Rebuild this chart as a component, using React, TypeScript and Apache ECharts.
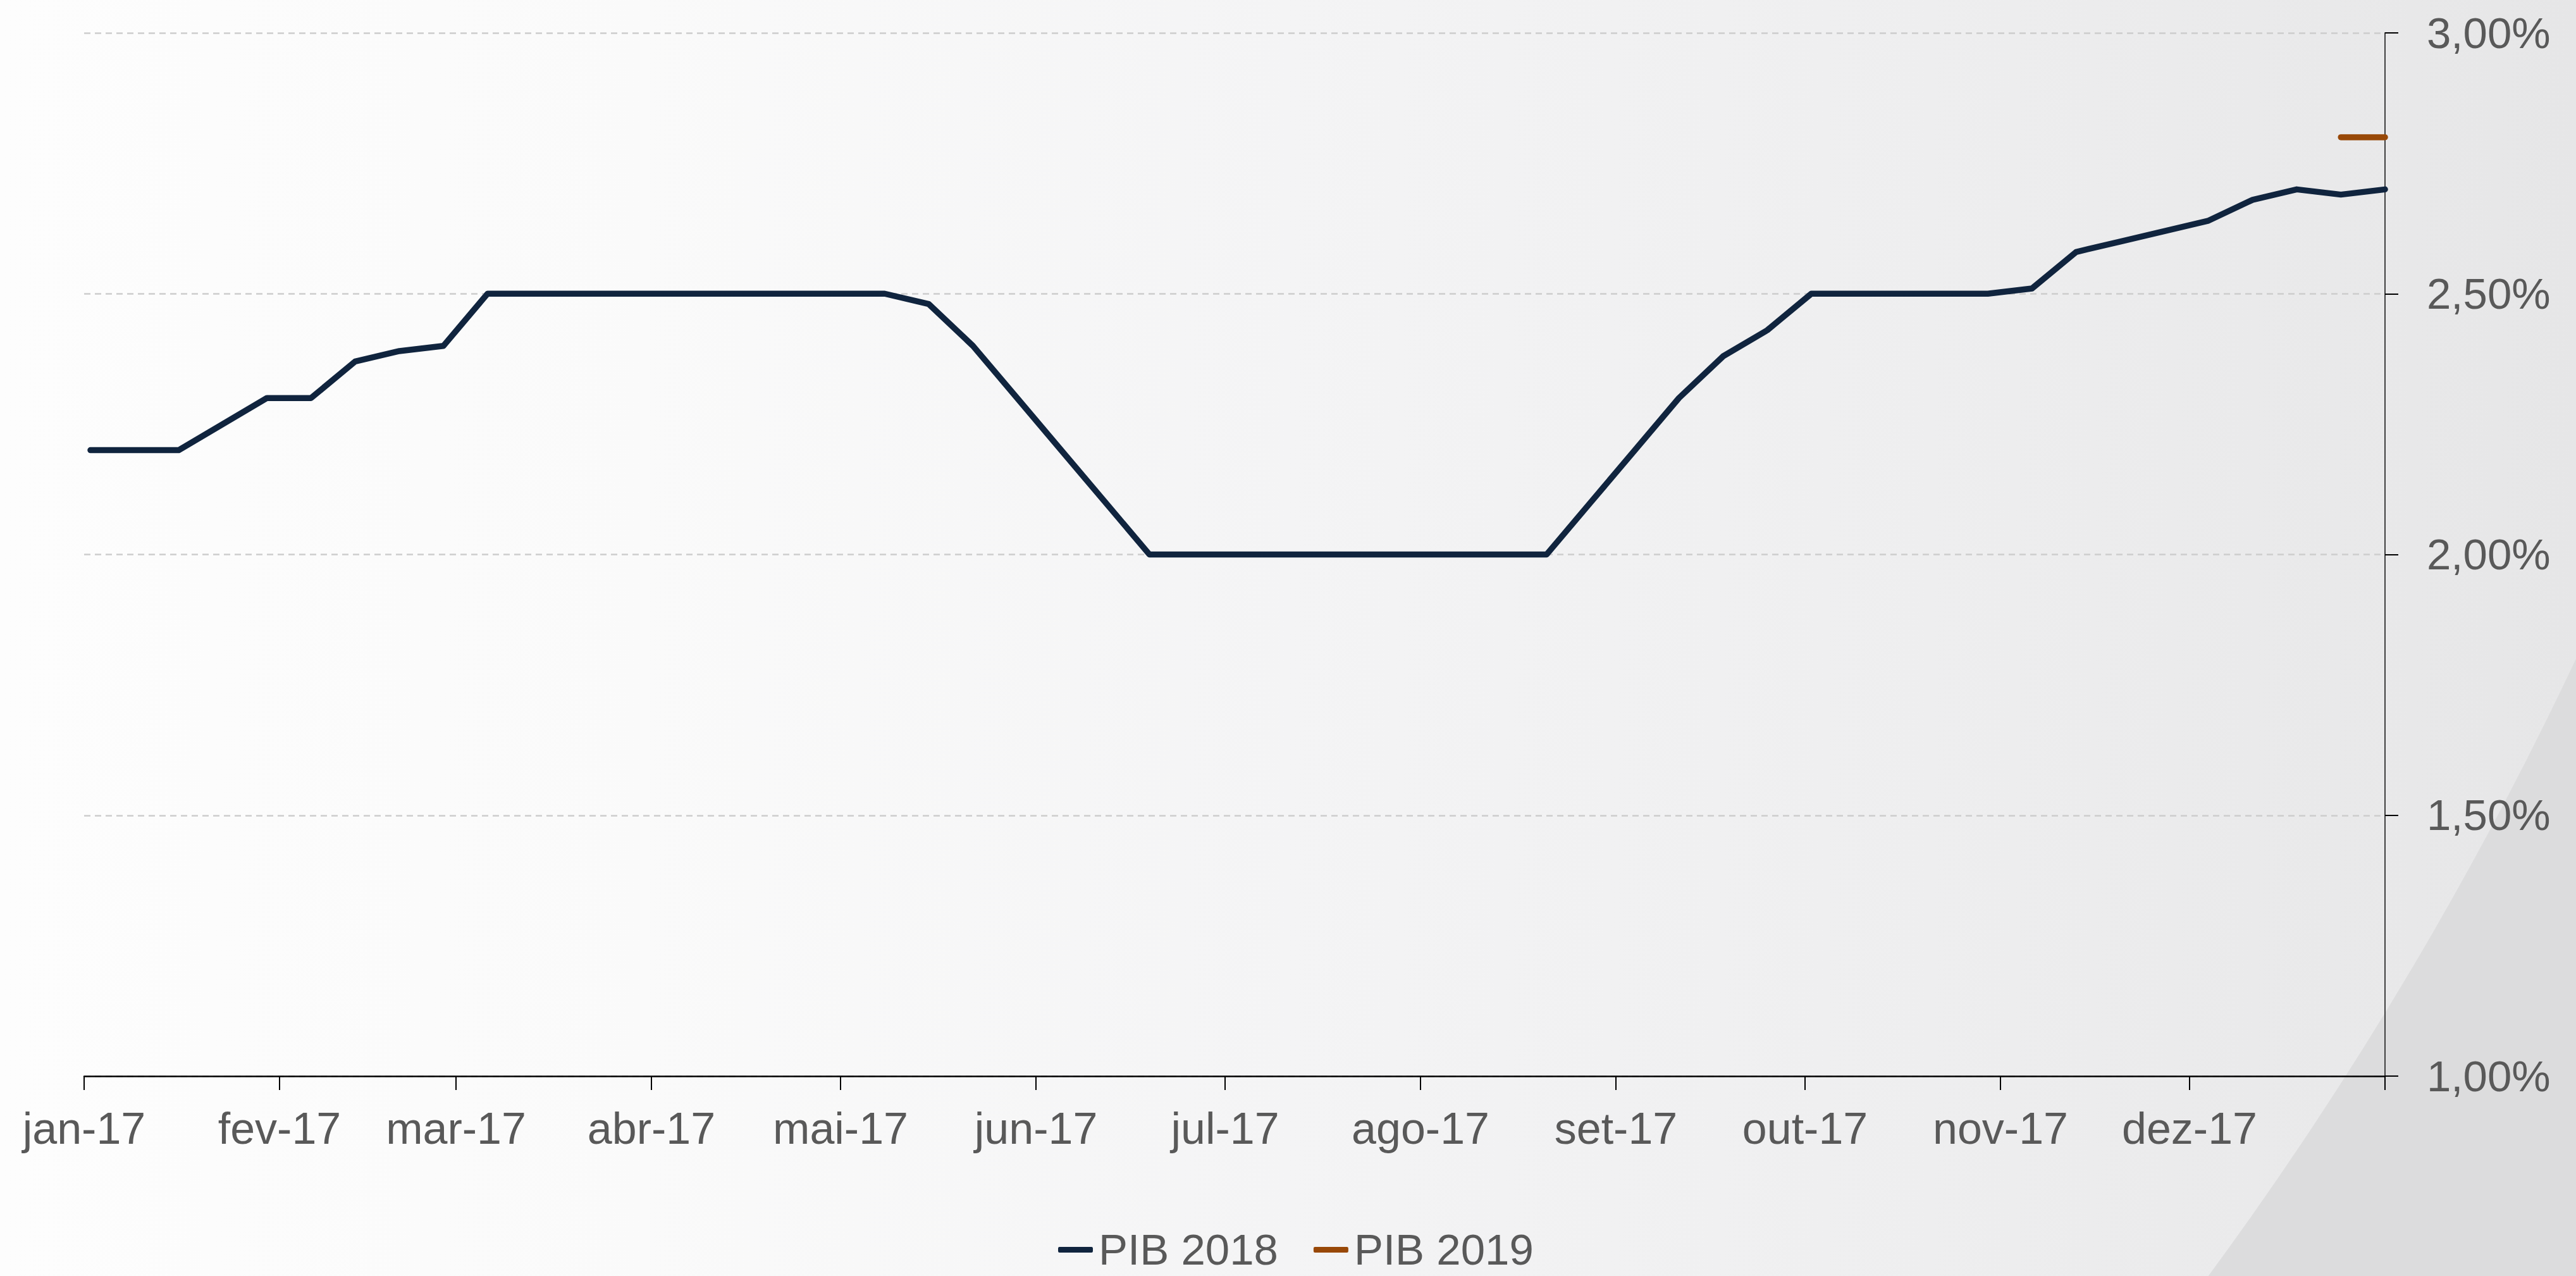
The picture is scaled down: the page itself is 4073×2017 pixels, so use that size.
import React, { useEffect, useRef } from 'react';
import * as echarts from 'echarts';

// Weekly survey dates (Mondays)
const weekDates = [
  '2017-01-02', '2017-01-09', '2017-01-16', '2017-01-23', '2017-01-30',
  '2017-02-06', '2017-02-13', '2017-02-20', '2017-02-27',
  '2017-03-06', '2017-03-13', '2017-03-20', '2017-03-27',
  '2017-04-03', '2017-04-10', '2017-04-17', '2017-04-24',
  '2017-05-01', '2017-05-08', '2017-05-15', '2017-05-22', '2017-05-29',
  '2017-06-05', '2017-06-12', '2017-06-19', '2017-06-26',
  '2017-07-03', '2017-07-10', '2017-07-17', '2017-07-24', '2017-07-31',
  '2017-08-07', '2017-08-14', '2017-08-21', '2017-08-28',
  '2017-09-04', '2017-09-11', '2017-09-18', '2017-09-25',
  '2017-10-02', '2017-10-09', '2017-10-16', '2017-10-23', '2017-10-30',
  '2017-11-06', '2017-11-13', '2017-11-20', '2017-11-27',
  '2017-12-04', '2017-12-11', '2017-12-18', '2017-12-25',
  '2018-01-01',
];

// PIB 2018 expectation (%), one value per date above
const pib2018 = [
  2.20, 2.20, 2.20, 2.25, 2.30,
  2.30, 2.37, 2.39, 2.40,
  2.50, 2.50, 2.50, 2.50,
  2.50, 2.50, 2.50, 2.50,
  2.50, 2.50, 2.48, 2.40, 2.30,
  2.20, 2.10, 2.00, 2.00,
  2.00, 2.00, 2.00, 2.00, 2.00,
  2.00, 2.00, 2.00, 2.10,
  2.20, 2.30, 2.38, 2.43,
  2.50, 2.50, 2.50, 2.50, 2.50,
  2.51, 2.58, 2.60, 2.62,
  2.64, 2.68, 2.70, 2.69,
  2.70,
];

// PIB 2019 expectation (%)
const pib2019Dates = ['2017-12-25', '2018-01-01'];
const pib2019 = [2.80, 2.80];

// Axis ticks
const monthTicks = [
  '2017-01-01', '2017-02-01', '2017-03-01', '2017-04-01', '2017-05-01', '2017-06-01',
  '2017-07-01', '2017-08-01', '2017-09-01', '2017-10-01', '2017-11-01', '2017-12-01',
  '2018-01-01',
];
const xTickLabels = [
  'jan-17', 'fev-17', 'mar-17', 'abr-17', 'mai-17', 'jun-17',
  'jul-17', 'ago-17', 'set-17', 'out-17', 'nov-17', 'dez-17',
];
const yMin = 1;
const yMax = 3;
const yStep = 0.5;

const seriesNames = ['PIB 2018', 'PIB 2019'];

const FONT = '"Liberation Sans", Arial, sans-serif';
const TEXT_COLOR = '#595959';

const toTime = (s: string) => new Date(s + 'T00:00:00').getTime();

export default function App() {
  const ref = useRef<HTMLDivElement>(null);

  useEffect(() => {
    document.body.style.margin = '0';
    document.body.style.overflow = 'hidden';
    if (!ref.current) return;
    const chart = echarts.init(ref.current, null, { renderer: 'svg' });

    const tickTimes = monthTicks.map(toTime);
    const labelTimes = tickTimes.slice(0, xTickLabels.length);

    const option: any = {
      animation: false,
      textStyle: { fontFamily: FONT },
      graphic: {
        elements: [
          {
            type: 'rect',
            z: -100,
            silent: true,
            shape: { x: 0, y: 0, width: 4073, height: 2017 },
            style: {
              fill: new echarts.graphic.LinearGradient(0, 0, 1, 0, [
                { offset: 0, color: '#fdfdfd' },
                { offset: 0.25, color: '#fafafa' },
                { offset: 0.5, color: '#f4f4f5' },
                { offset: 0.75, color: '#eeeeef' },
                { offset: 1, color: '#e6e6e7' },
              ]),
            },
          },
          {
            type: 'ring',
            z: -99,
            silent: true,
            shape: { cx: -1222, cy: -1453, r0: 5853, r: 9000 },
            style: { fill: '#dcdcdd' },
          },
        ],
      },
      grid: { left: 133, right: 302, top: 52, bottom: 316, containLabel: false },
      legend: {
        left: 1668,
        top: 1936,
        icon: 'roundRect',
        itemWidth: 55,
        itemHeight: 9,
        itemGap: 56,
        textStyle: {
          fontSize: 69,
          lineHeight: 60,
          color: TEXT_COLOR,
          fontFamily: FONT,
          padding: [0, 0, 0, 4],
        },
        data: seriesNames,
      },
      xAxis: {
        type: 'value',
        min: tickTimes[0],
        max: tickTimes[tickTimes.length - 1],
        axisLine: { show: true, onZero: false, lineStyle: { color: '#000000', width: 2.5 } },
        axisTick: {
          show: true,
          length: 22,
          lineStyle: { color: '#000000', width: 2 },
          customValues: tickTimes,
        },
        axisLabel: {
          show: true,
          margin: 48,
          fontSize: 70,
          color: TEXT_COLOR,
          fontFamily: FONT,
          customValues: labelTimes,
          formatter: (val: number) => {
            const d = new Date(val);
            if (d.getFullYear() !== 2017) return '';
            return xTickLabels[d.getMonth()];
          },
        },
        splitLine: { show: false },
      },
      yAxis: {
        type: 'value',
        position: 'right',
        min: yMin,
        max: yMax,
        interval: yStep,
        axisLine: { show: true, lineStyle: { color: '#404040', width: 2 } },
        axisTick: { show: true, length: 21, lineStyle: { color: '#000000', width: 2 } },
        axisLabel: {
          margin: 66,
          fontSize: 69,
          color: TEXT_COLOR,
          fontFamily: FONT,
          formatter: (v: number) => v.toFixed(2).replace('.', ',') + '%',
        },
        splitLine: {
          show: true,
          lineStyle: { color: '#cdcdcd', width: 2.5, type: [10, 7] },
        },
      },
      series: [
        {
          name: seriesNames[0],
          type: 'line',
          data: weekDates.map((d, i) => [toTime(d), pib2018[i]]),
          showSymbol: false,
          symbol: 'none',
          color: '#10243e',
          lineStyle: { color: '#10243e', width: 9.5, cap: 'round', join: 'round' },
          z: 3,
        },
        {
          name: seriesNames[1],
          type: 'line',
          data: pib2019Dates.map((d, i) => [toTime(d), pib2019[i]]),
          showSymbol: false,
          symbol: 'none',
          color: '#984807',
          lineStyle: { color: '#984807', width: 9.5, cap: 'round', join: 'round' },
          z: 3,
        },
      ],
    };

    chart.setOption(option);
    return () => chart.dispose();
  }, []);

  return <div ref={ref} style={{ width: 4073, height: 2017 }} />;
}
